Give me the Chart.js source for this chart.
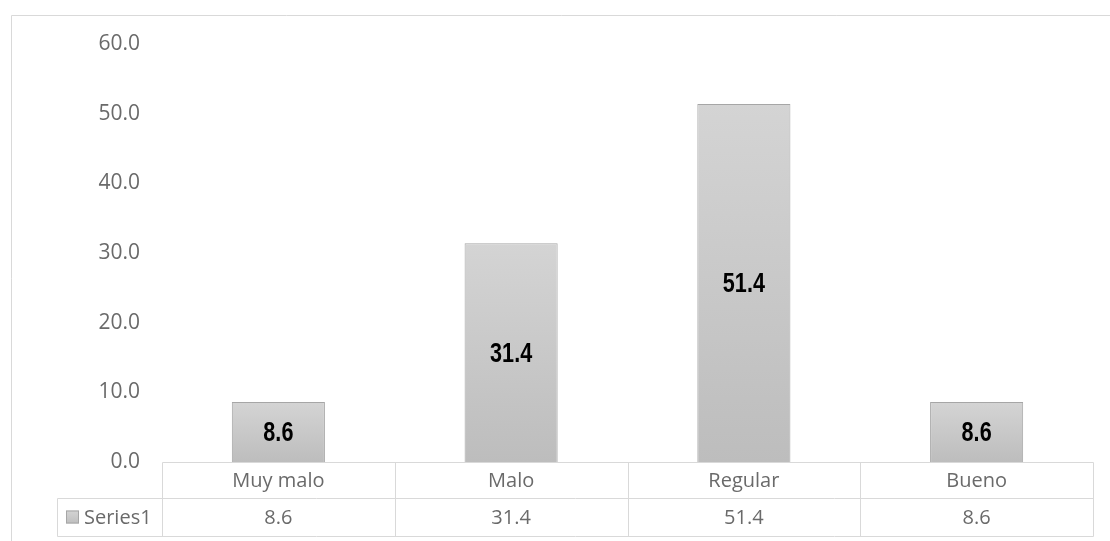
<!DOCTYPE html>
<html>
<head>
<meta charset="utf-8">
<script src="https://cdn.jsdelivr.net/npm/chart.js@4"></script>
<style>
  html, body { margin: 0; padding: 0; background: #fff; }
  #wrap { width: 1110px; height: 541px; position: relative; }
</style>
</head>
<body>
<div id="wrap"><canvas id="barChart"></canvas></div>
<script>
// data
const categories = ['Muy malo', 'Malo', 'Regular', 'Bueno'];
const seriesName = 'Series1';
const values = [8.6, 31.4, 51.4, 8.6];

const gridColor = '#d9d9d9';
const textColor = '#6a6a6a';
const tickFont = { family: 'Open Sans', size: 21 };

// gradient per bar, light at top, darker at bottom
function barFill(context) {
    const chart = context.chart;
    const area = chart.chartArea;
    if (!area) return '#c8c8c8';
    const y = chart.scales.y;
    const v = context.raw;
    const top = y.getPixelForValue(v);
    const bottom = y.getPixelForValue(0);
    const g = chart.ctx.createLinearGradient(0, top, 0, bottom);
    g.addColorStop(0, '#d4d4d4');
    g.addColorStop(1, '#bdbdbd');
    return g;
}

// frame line around the chart (top + left only visible)
const framePlugin = {
    id: 'frame',
    beforeDraw(chart) {
        const ctx = chart.ctx;
        ctx.save();
        ctx.strokeStyle = gridColor;
        ctx.lineWidth = 1;
        ctx.beginPath();
        ctx.moveTo(11.5, 545);
        ctx.lineTo(11.5, 15.5);
        ctx.lineTo(1115, 15.5);
        ctx.stroke();
        ctx.restore();
    }
};

// value labels centered inside bars (narrow bold look)
const labelPlugin = {
    id: 'barLabels',
    afterDatasetsDraw(chart) {
        const ctx = chart.ctx;
        const meta = chart.getDatasetMeta(0);
        ctx.save();
        ctx.font = 'bold 27px "Liberation Sans", Arial, sans-serif';
        ctx.fillStyle = '#000';
        ctx.textAlign = 'center';
        ctx.textBaseline = 'middle';
        meta.data.forEach((bar, i) => {
            const mid = (bar.y + bar.base) / 2;
            ctx.save();
            ctx.translate(bar.x, mid + 2);
            ctx.scale(0.8, 1);
            ctx.fillText(values[i].toFixed(1), 0, 0);
            ctx.restore();
        });
        ctx.restore();
    }
};

// data table under the axis
const tablePlugin = {
    id: 'dataTable',
    afterDraw(chart) {
        const ctx = chart.ctx;
        const x = chart.scales.x;
        const area = chart.chartArea;
        const n = categories.length;
        const colW = (area.right - area.left) / n;
        const top = Math.round(area.bottom) + 0.5;
        const mid = top + 36;
        const bot = top + 74;
        const keyLeft = 57.5;
        const left = Math.round(area.left) + 0.5;
        const right = Math.round(area.right) + 0.5;

        ctx.save();
        ctx.strokeStyle = gridColor;
        ctx.lineWidth = 1;
        ctx.beginPath();
        ctx.moveTo(left, top); ctx.lineTo(right, top);
        ctx.moveTo(keyLeft, mid); ctx.lineTo(right, mid);
        ctx.moveTo(keyLeft, bot); ctx.lineTo(right, bot);
        ctx.moveTo(keyLeft, mid); ctx.lineTo(keyLeft, bot);
        for (let i = 0; i <= n; i++) {
            const cx = Math.round(area.left + i * colW) + 0.5;
            ctx.moveTo(cx, top); ctx.lineTo(cx, bot);
        }
        ctx.stroke();

        ctx.font = '20px "Open Sans"';
        ctx.fillStyle = textColor;
        ctx.textAlign = 'center';
        ctx.textBaseline = 'middle';
        categories.forEach((c, i) => {
            const cx = x.getPixelForValue(i);
            ctx.fillText(c, cx, (top + mid) / 2 + 1);
            ctx.fillText(values[i].toFixed(1), cx, (mid + bot) / 2 + 1);
        });

        // legend key
        const ky = (mid + bot) / 2;
        const g = ctx.createLinearGradient(0, ky - 7, 0, ky + 7);
        g.addColorStop(0, '#d4d4d4');
        g.addColorStop(1, '#bdbdbd');
        ctx.fillStyle = g;
        ctx.fillRect(66, ky - 7, 13, 13);
        ctx.strokeStyle = '#a6a6a6';
        ctx.strokeRect(66.5, ky - 6.5, 12, 12);
        ctx.fillStyle = textColor;
        ctx.textAlign = 'left';
        ctx.fillText(seriesName, 84, ky + 1);
        ctx.restore();
    }
};

const ctxBar = document.getElementById('barChart').getContext('2d');
const barChart = new Chart(ctxBar, {
    type: 'bar',
    data: {
        labels: categories,
        datasets: [{
            label: seriesName,
            data: values,
            backgroundColor: barFill,
            borderColor: '#a6a6a6',
            borderWidth: 1,
            categoryPercentage: 1,
            barPercentage: 0.4
        }]
    },
    options: {
        responsive: true,
        maintainAspectRatio: false,
        animation: false,
        layout: {
            padding: { left: 0, top: 44, right: 17, bottom: 79 }
        },
        plugins: {
            legend: { display: false },
            tooltip: { enabled: false }
        },
        scales: {
            x: {
                display: false
            },
            y: {
                min: 0,
                max: 60,
                grid: { display: false },
                border: { display: false },
                afterFit(scale) { scale.width = 162; },
                ticks: {
                    stepSize: 10,
                    padding: 14,
                    color: textColor,
                    font: tickFont,
                    callback: v => v.toFixed(1)
                }
            }
        }
    },
    plugins: [framePlugin, labelPlugin, tablePlugin]
});
</script>
</body>
</html>
